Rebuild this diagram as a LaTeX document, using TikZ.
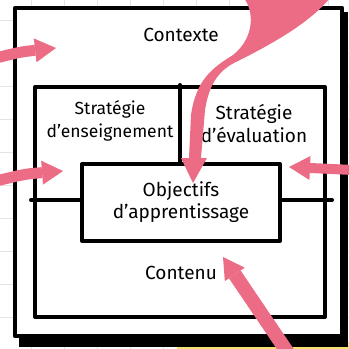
\documentclass[tikz,border=0pt]{standalone}
\usepackage{fontspec}
\setmainfont{Fira Sans}
\usetikzlibrary{arrows.meta}
\definecolor{pinkc}{RGB}{236,108,133}
\definecolor{gridc}{RGB}{228,228,228}
\definecolor{stickyc}{RGB}{246,226,110}
\begin{document}
\begin{tikzpicture}[x=1pt,y=-1pt,
  box/.style={draw=black, line width=4pt, line join=round, line cap=round},
  lbl/.style={font=\fontsize{19}{23}\selectfont, align=center, inner sep=0pt},
  parrow/.style={draw=pinkc, line width=#1, line cap=butt,
     -{Triangle[length=21pt,width=24pt,line width=0pt]}},
  parrow/.default=10pt]
\useasboundingbox (0,0) rectangle (349,349);
\fill[white] (0,0) rectangle (349,349);
% faint grid of the page behind
\foreach \y in {20,53,...,349} \draw[gridc, line width=0.8pt] (0,\y) -- (349,\y);
\foreach \x in {31,64,...,349} \draw[gridc, line width=0.8pt] (\x,0) -- (\x,349);
% sticky note at the bottom
\fill[stickyc] (177,343) -- (349,342) -- (349,349) -- (177,349) -- cycle;
% outer box with shadow
\fill[black] (19,12) rectangle (348,347);
\draw[box, line width=4.5pt, fill=white] (15,8) rectangle (342,336);
% inner box and dividers
\draw[box] (35,87) rectangle (325,317);
\draw[box] (31,200) -- (332,200);
\coordinate (vd) at (180,85);
\node[box, fill=white, minimum width=198pt, minimum height=77pt, inner sep=0pt,
      font=\fontsize{19}{22}\selectfont, align=center] (obj) at (181,202.5)
      {Objectifs\\d’apprentissage};
\draw[box] (vd) -- (vd |- obj.north);
% labels
\node[lbl] (ctx) at (181,35) {Contexte};
\node[lbl, font=\fontsize{17.5}{23}\selectfont] (se) at (110,121) {Stratégie\\d’enseignement};
\node[lbl] (sv) at (254,124) {Stratégie\\d’évaluation};
\node[lbl] (ctn) at (181,273) {Contenu};
% pink arrows
\coordinate (a1s) at (-4,58);  \coordinate (a1t) at (56,48);
\coordinate (a2s) at (-4,181); \coordinate (a2t) at (63,171);
\coordinate (a3s) at (353,170); \coordinate (a3t) at (289,167);
\coordinate (a5s) at (290,356); \coordinate (a5t) at (223,257);
\draw[parrow=11pt] (a1s) .. controls (20,52) .. (a1t);
\draw[parrow=11pt] (a2s) .. controls (25,174) .. (a2t);
\draw[parrow] (a3s) -- (a3t);
\draw[parrow=14pt] (a5s) -- (a5t);
% big swoosh arrow from the top
\fill[pinkc] (244,-2) .. controls (256,15) and (252,40) .. (233,55)
  .. controls (212,68) and (196,80) .. (191,115) -- (189,158) -- (181,158)
  -- (193,183) -- (207,158) -- (201,158) -- (205,110)
  .. controls (209,85) and (218,70) .. (238,61)
  .. controls (280,40) and (312,20) .. (330,-2) -- cycle;
\end{tikzpicture}
\end{document}
